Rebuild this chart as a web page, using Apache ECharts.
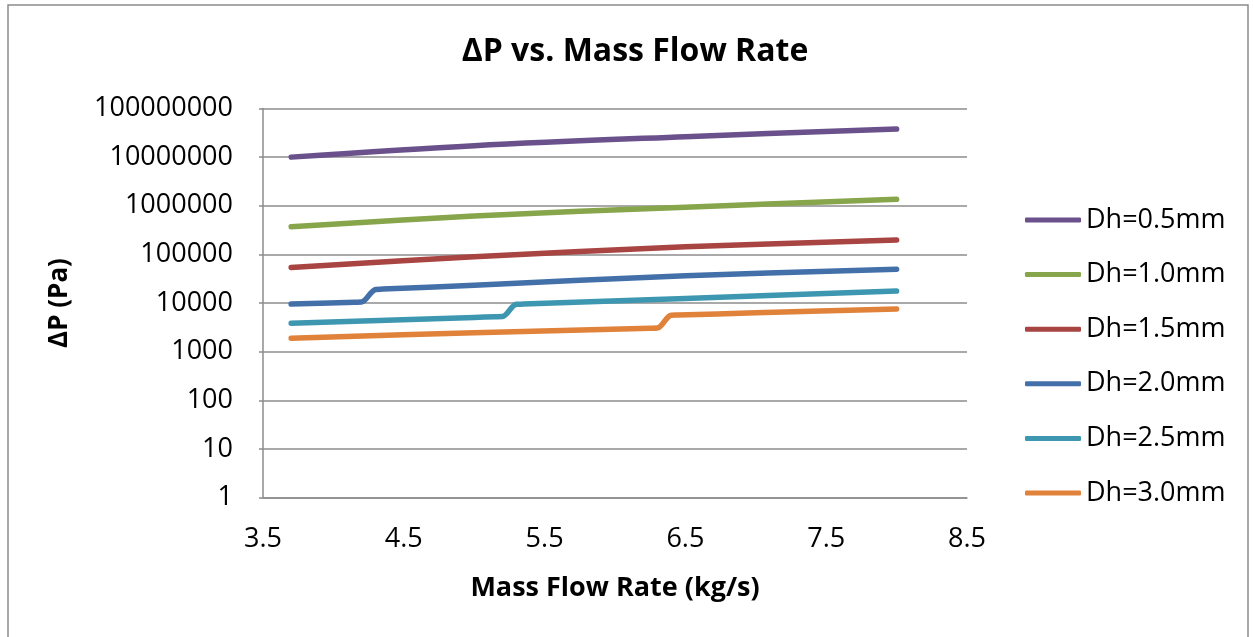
<!DOCTYPE html>
<html>
<head>
<meta charset="utf-8">
<title>ΔP vs. Mass Flow Rate</title>
<script src="https://cdn.jsdelivr.net/npm/echarts@6/dist/echarts.min.js"></script>
<style>
  html, body { margin: 0; padding: 0; background: #ffffff; }
  #chart { width: 1253px; height: 637px; }
</style>
</head>
<body>
<div id="chart"></div>
<script>
// Pressure drop (Pa) against mass flow rate (kg/s), one series per hydraulic diameter.
const seriesNames = ['Dh=0.5mm', 'Dh=1.0mm', 'Dh=1.5mm', 'Dh=2.0mm', 'Dh=2.5mm', 'Dh=3.0mm'];

// [mass flow rate, ΔP] pairs
const dh05 = [[3.7, 10000000], [5.0, 17200000], [6.5, 26300000], [8.0, 37900000]];
const dh10 = [[3.7, 369000], [5.0, 614000], [6.5, 935000], [8.0, 1360000]];
const dh15 = [[3.7, 54000], [5.0, 89000], [6.5, 143000], [8.0, 197000]];
const dh20 = [[3.7, 9500], [4.15, 10400], [4.2, 10500], [4.3, 19000], [4.35, 19300], [5.0, 23300], [6.5, 36300], [8.0, 49500]];
const dh25 = [[3.7, 3830], [5.0, 5060], [5.15, 5200], [5.2, 5250], [5.3, 9400], [5.35, 9500], [6.5, 12400], [8.0, 17600]];
const dh30 = [[3.7, 1890], [5.0, 2440], [6.25, 3020], [6.3, 3050], [6.4, 5600], [6.45, 5650], [7.0, 6300], [8.0, 7500]];

const xTicks = [3.5, 4.5, 5.5, 6.5, 7.5, 8.5];
const yTickLabels = ['1', '10', '100', '1000', '10000', '100000', '1000000', '10000000', '100000000'];

const seriesData = [dh05, dh10, dh15, dh20, dh25, dh30];
const seriesColors = ['#6a518c', '#87a54a', '#a84442', '#4470aa', '#3e97b0', '#e0823a'];

const FONT = '"Open Sans", "Liberation Sans", sans-serif';

const chart = echarts.init(document.getElementById('chart'), null, { renderer: 'canvas' });

chart.setOption({
  backgroundColor: '#ffffff',
  animation: false,
  title: {
    text: 'ΔP vs. Mass Flow Rate',
    left: 630,
    top: 31,
    textAlign: 'center',
    textStyle: { fontFamily: FONT, fontSize: 32, fontWeight: 'bold', color: '#000000' }
  },
  legend: {
    orient: 'vertical',
    left: 1025,
    top: 205,
    padding: 0,
    itemWidth: 56,
    itemHeight: 5,
    itemGap: 24.6,
    itemTextGap: 5,
    icon: 'roundRect',
    data: seriesNames,
    textStyle: { fontFamily: FONT, fontSize: 27, color: '#000000', lineHeight: 30 }
  },
  grid: { left: 263, right: 286, top: 108.5, bottom: 139.5, containLabel: false },
  xAxis: {
    type: 'value',
    min: xTicks[0],
    max: xTicks[xTicks.length - 1],
    interval: 1,
    name: 'Mass Flow Rate (kg/s)',
    nameLocation: 'middle',
    nameGap: 77,
    nameTextStyle: { fontFamily: FONT, fontSize: 27, fontWeight: 'bold', color: '#000000' },
    axisLine: { show: true, onZero: false, lineStyle: { color: '#8c8c8c', width: 1.5 } },
    axisTick: { show: false },
    splitLine: { show: false },
    axisLabel: {
      margin: 28,
      fontFamily: FONT, fontSize: 27, color: '#000000',
      formatter: v => xTicks.includes(Math.round(v * 10) / 10) ? (Math.round(v * 10) / 10).toFixed(1) : ''
    }
  },
  yAxis: {
    type: 'log',
    logBase: 10,
    min: 1,
    max: 100000000,
    name: 'ΔP (Pa)',
    nameLocation: 'middle',
    nameGap: 190,
    nameRotate: 90,
    nameTextStyle: { fontFamily: FONT, fontSize: 26, fontWeight: 'bold', color: '#000000' },
    axisLine: { show: true, lineStyle: { color: '#8c8c8c', width: 1.5 } },
    axisTick: { show: true, inside: false, length: 4, lineStyle: { color: '#8c8c8c', width: 1.5 } },
    splitLine: { show: true, lineStyle: { color: '#8c8c8c', width: 1.5 } },
    axisLabel: {
      margin: 30,
      fontFamily: FONT, fontSize: 27, color: '#000000',
      formatter: v => yTickLabels[Math.round(Math.log10(v))]
    }
  },
  graphic: [{
    type: 'rect',
    shape: { x: 8, y: 5, width: 1240, height: 640 },
    style: { fill: 'none', stroke: '#8c8c8c', lineWidth: 1.5 },
    silent: true,
    z: -1
  }],
  series: seriesNames.map((name, i) => ({
    name: name,
    type: 'line',
    data: seriesData[i],
    showSymbol: false,
    symbol: 'none',
    smooth: 0.35,
    color: seriesColors[i],
    lineStyle: { width: 5.5, color: seriesColors[i], cap: 'round', join: 'round' },
    itemStyle: { color: seriesColors[i] }
  }))
});
</script>
</body>
</html>
